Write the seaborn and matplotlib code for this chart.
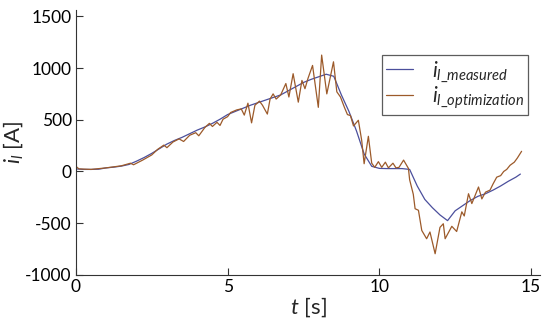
import pandas as pd
import matplotlib
matplotlib.use("Agg")
import matplotlib.pyplot as plt
import seaborn as sns

# measured current (blue)
t_measured = [0.0, 0.25, 0.5, 0.75, 1.0, 1.25, 1.5, 1.75, 2.0, 2.25, 2.5, 2.75,
              3.0, 3.25, 3.5, 3.75, 4.0, 4.25, 4.5, 4.75, 5.0, 5.25, 5.5, 5.75,
              6.0, 6.25, 6.5, 6.75, 7.0, 7.25, 7.5, 7.75, 8.0, 8.25, 8.5, 8.75,
              9.0, 9.25, 9.5, 9.75, 10.0, 10.25, 10.5, 10.75, 11.0, 11.25, 11.5,
              11.75, 12.0, 12.25, 12.5, 12.75, 13.0, 13.25, 13.5, 13.75, 14.0,
              14.25, 14.5, 14.65]
i_measured = [25, 20, 20, 22, 35, 42, 52, 68, 100, 135, 175, 220,
              265, 300, 330, 365, 400, 430, 465, 505, 550, 580, 610, 640,
              665, 690, 715, 740, 780, 820, 860, 890, 915, 940, 920, 740,
              580, 390, 170, 50, 30, 28, 28, 28, 20, -140, -270,
              -350, -420, -475, -380, -330, -280, -240, -215, -180, -140,
              -95, -55, -25]

# optimization result (brown)
t_optim = [0.0, 0.1, 0.5, 1.0, 1.5, 1.8, 1.9, 2.2, 2.5, 2.7, 2.9, 3.0, 3.2,
           3.4, 3.55, 3.75, 3.95, 4.05, 4.25, 4.4, 4.5, 4.65, 4.75, 4.85, 5.0,
           5.1, 5.3, 5.45, 5.55, 5.67, 5.79, 5.9, 6.05, 6.15, 6.31, 6.4, 6.5,
           6.6, 6.75, 6.92, 7.02, 7.16, 7.33, 7.45, 7.55, 7.65, 7.8, 7.99, 8.1,
           8.27, 8.49, 8.6, 8.72, 8.85, 8.95, 9.05, 9.15, 9.31, 9.42, 9.5, 9.64,
           9.75, 9.85, 9.97, 10.08, 10.2, 10.3, 10.45, 10.55, 10.65, 10.8,
           10.96, 11.0, 11.12, 11.18, 11.29, 11.4, 11.56, 11.67, 11.84, 12.0,
           12.11, 12.17, 12.39, 12.55, 12.72, 12.8, 12.94, 13.05, 13.27, 13.38,
           13.5, 13.65, 13.75, 13.87, 14.0, 14.1, 14.2, 14.31, 14.45, 14.55,
           14.69]
i_optim = [50, 25, 20, 35, 55, 80, 65, 110, 160, 215, 255, 230, 285,
           315, 290, 350, 375, 345, 425, 465, 435, 475, 445, 505, 530,
           570, 595, 605, 545, 660, 470, 640, 680, 640, 555, 700, 750,
           700, 740, 850, 720, 945, 670, 880, 800, 900, 1025, 620, 1125,
           750, 1060, 770, 720, 620, 550, 540, 440, 495, 300, 75, 340,
           80, 40, 95, 40, 90, 35, 80, 35, 40, 110,
           30, -80, -220, -360, -375, -570, -650, -585, -795, -540,
           -505, -650, -530, -580, -390, -430, -215, -310, -150, -265,
           -200, -180, -120, -55, -40, 0, 20, 60, 90, 130,
           195]

x_ticks = [0, 5, 10, 15]
y_ticks = [-1000, -500, 0, 500, 1000, 1500]

sns.set_style("ticks")
plt.rcParams["font.family"] = ["Lato", "DejaVu Sans"]
plt.rcParams["mathtext.fontset"] = "custom"
plt.rcParams["mathtext.it"] = "Lato:italic"
plt.rcParams["mathtext.rm"] = "Lato"
plt.rcParams["axes.unicode_minus"] = False

df_m = pd.DataFrame({"t": t_measured, "i": i_measured})
df_o = pd.DataFrame({"t": t_optim, "i": i_optim})

fig = plt.figure(figsize=(5.5, 3.25), dpi=100)
ax = fig.add_axes([0.138, 0.154, 0.844, 0.815])

sns.lineplot(data=df_m, x="t", y="i", ax=ax, color="#4b4f9c", lw=0.9,
             label=r"$i_{l\_measured}$")
sns.lineplot(data=df_o, x="t", y="i", ax=ax, color="#9c5a2a", lw=0.9,
             label=r"$i_{l\_optimization}$")

ax.set_xlim(0, 15.3)
ax.set_ylim(-1000, 1560)
ax.set_xticks(x_ticks)
ax.set_yticks(y_ticks)
ax.tick_params(direction="in", length=5, width=0.8, colors="#333333",
               labelsize=12.5, labelcolor="black", pad=3)
for s in ["left", "bottom"]:
    ax.spines[s].set_color("#333333")
    ax.spines[s].set_linewidth(0.8)
sns.despine(ax=ax)

ax.set_xlabel(r"$t$ [s]", fontsize=16, labelpad=0)
ax.set_ylabel(r"$i_l$ [A]", fontsize=16, labelpad=0)

leg = ax.legend(loc="upper right", bbox_to_anchor=(0.975, 0.83),
                fontsize=15, frameon=True, fancybox=False, handlelength=1.3,
                borderpad=0.2, labelspacing=0.0, handletextpad=0.9,
                borderaxespad=0)
leg.get_frame().set_edgecolor("#333333")
leg.get_frame().set_linewidth(0.9)

fig.savefig("out.png", dpi=100)
